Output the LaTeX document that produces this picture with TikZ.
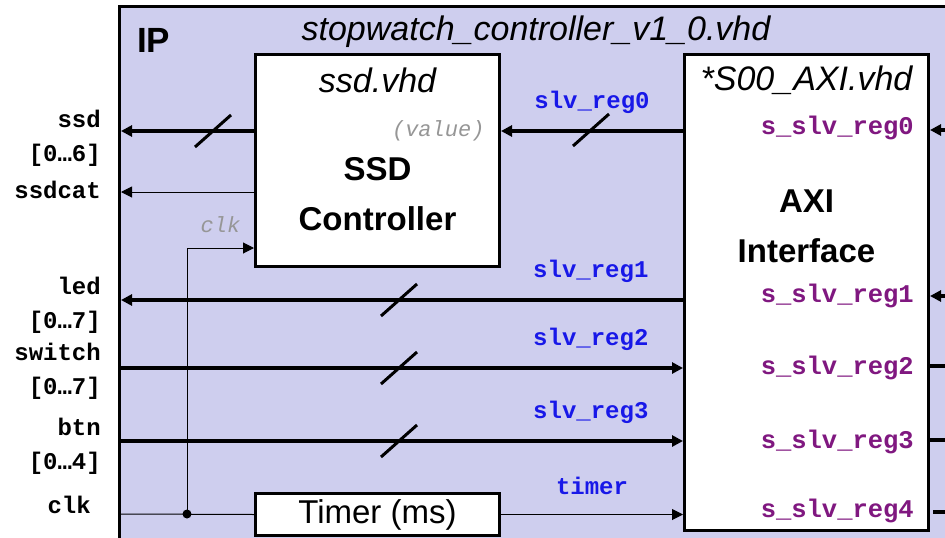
\documentclass[tikz,border=0pt]{standalone}
\usepackage{fontspec}
\setmainfont{Liberation Sans}
\setsansfont{Liberation Sans}
\setmonofont{Liberation Mono}
\usetikzlibrary{arrows.meta,positioning}

\definecolor{ipfill}{RGB}{206,206,238}
\definecolor{regblue}{RGB}{24,24,232}
\definecolor{regpurple}{RGB}{128,24,128}
\definecolor{hintgray}{RGB}{150,150,150}

\tikzset{
  block/.style={draw,fill=white,line width=3pt,minimum width=244pt,inner sep=0pt},
  bus/.style={line width=4pt},
  wire/.style={line width=1pt},
  port/.style={font=\fontsize{24}{34}\selectfont\ttfamily\bfseries,align=right,inner sep=0pt},
  reg/.style={font=\fontsize{24}{24}\selectfont\ttfamily\bfseries,text=regblue,yshift=29pt},
  sreg/.style={font=\fontsize{25.5}{26}\selectfont\ttfamily\bfseries,text=regpurple,anchor=east,inner sep=0pt},
  file/.style={font=\fontsize{34}{34}\selectfont\itshape},
  big/.style={font=\fontsize{33}{50}\selectfont\bfseries,align=center},
  hint/.style={font=\fontsize{22}{22}\selectfont\ttfamily\itshape,text=hintgray},
  slash/.pic={\draw[line width=3pt] (-18,16) -- (18,-16);}
}

\begin{document}
\begin{tikzpicture}[x=1pt,y=-1pt,>={Triangle[length=11pt,width=11pt]}]
\useasboundingbox (0,0) rectangle (945,538);
\clip (0,0) rectangle (945,538);

% the IP wrapper
\draw[fill=ipfill,line width=3pt] (119,6) rectangle (990,600);
\node[font=\fontsize{35}{35}\selectfont\bfseries,anchor=base west,inner sep=0pt] (ip) at (137,52) {IP};
\node[file,anchor=base] (top) at (536,40) {stopwatch\_controller\_v1\_0.vhd};

% blocks
\node[block,minimum height=212pt] (ssd) at (377.5,160.5) {};
\node[block,minimum height=476pt] (axi) at (806.5,292.5) {};
\node[block,minimum height=42pt,font=\fontsize{33}{33}\selectfont] (timer) at (377.5,514.5) {Timer (ms)};

\node[file] (ssdname) at (377.5,80) {ssd.vhd};
\node[hint,anchor=east] (value) at (488,131) {(value)};
\node[big] (ssdtitle) at (377.5,194.5) {SSD\\Controller};
\node[file] (axiname) at (806.5,80) {*S00\_AXI.vhd};
\node[big] (axititle) at (806.5,226) {AXI\\Interface};
\foreach \y [count=\i from 0] in {128,296,368,442,511}
  \node[sreg] (s\i) at (914,\y) {s\_slv\_reg\i};

% ports on the left
\node[port,anchor=north east] (l-ssd) at (101,110) {ssd\\{}[0…6]};
\node[port,anchor=base east] (l-ssdcat) at (101,198) {ssdcat};
\node[port,anchor=north east] (l-led) at (101,277) {led\\{}[0…7]};
\node[port,anchor=north east] (l-switch) at (101,343) {switch\\{}[0…7]};
\node[port,anchor=north east] (l-btn) at (101,418) {btn\\{}[0…4]};
\node[port,anchor=base east] (l-clk) at (91,513) {clk};

\coordinate (p-ssd) at (121,131);
\coordinate (p-ssdcat) at (121,192);
\coordinate (p-led) at (121,300);
\coordinate (p-switch) at (121,368);
\coordinate (p-btn) at (121,441);
\coordinate (p-clk) at (121,514);
\coordinate (tap) at (187,514);

% signals
\draw[bus,->] (ssd.west |- p-ssd) -- (p-ssd);
\pic at (213,131) {slash};
\draw[wire,->] (ssd.west |- p-ssdcat) -- (p-ssdcat);
\draw[bus,->] (axi.west |- p-ssd) -- (ssd.east |- p-ssd) node[reg,midway] {slv\_reg0};
\pic at (591,130) {slash};
\draw[bus,->] (axi.west |- p-led) -- (p-led) node[reg,pos=.164] {slv\_reg1};
\draw[bus,->] (p-switch) -- (axi.west |- p-switch) node[reg,pos=.836] {slv\_reg2};
\draw[bus,->] (p-btn) -- (axi.west |- p-btn) node[reg,pos=.836] {slv\_reg3};
\foreach \y in {300,368,441}
  \pic at (399,\y) {slash};

% clock and timer
\draw[wire] (p-clk) -- (timer.west);
\fill (tap) circle[radius=4.5pt];
\draw[wire,->] (tap) |- ([yshift=20pt]ssd.south west) node[hint,pos=.75,yshift=23pt] {clk};
\draw[wire,->] (timer.east) -- (axi.west |- timer.east) node[reg,midway] {timer};

% bus side of the AXI block
\coordinate (o0) at (990,130);
\coordinate (o1) at (990,296);
\coordinate (o2) at (990,366);
\coordinate (o3) at (990,440);
\coordinate (o4) at (990,512);
\draw[bus,->] (o0) -- (axi.east |- o0);
\draw[bus,->] (o1) -- (axi.east |- o1);
\draw[bus] (axi.east |- o2) -- (o2);
\draw[bus] (axi.east |- o3) -- (o3);
\draw[bus] ([xshift=3pt]axi.east |- o4) -- (o4);
\end{tikzpicture}
\end{document}
